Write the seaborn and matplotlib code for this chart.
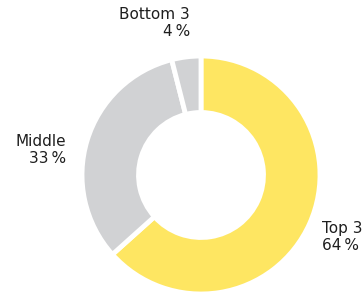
import matplotlib
matplotlib.use("Agg")
import matplotlib.pyplot as plt
import seaborn as sns

categories = ["Top 3", "Middle", "Bottom 3"]
values = [64, 33, 4]
colors = ["#FEE662", "#D1D2D4", "#D1D2D4"]

sns.set_theme(style="white")
plt.rcParams['font.family'] = ['DejaVu Sans']

fig = plt.figure(figsize=(3.64, 2.99), dpi=100)
ax = fig.add_axes([0, 0, 1, 1])

ax.pie(values, colors=colors, startangle=90, counterclock=False,
       center=(201, 124), radius=119,
       wedgeprops=dict(width=119 * 0.475, edgecolor="white", linewidth=3.5),
       frame=True)
ax.set_xlim(0, 364)
ax.set_ylim(0, 299)
ax.axis("off")

txt_color = "#1e1e1e"
fs = 11
pos = {
    "Top 3": (322, 78, "left"),
    "Middle": (66, 165, "right"),
    "Bottom 3": (190, 292, "right"),
}
for cat, val in zip(categories, values):
    x, y, ha = pos[cat]
    ax.text(x, y, f"{cat}\n{val}\u2009%", ha=ha, va="top", fontsize=fs,
            color=txt_color, linespacing=1.2, multialignment=ha)

fig.savefig("out.png", dpi=100)
